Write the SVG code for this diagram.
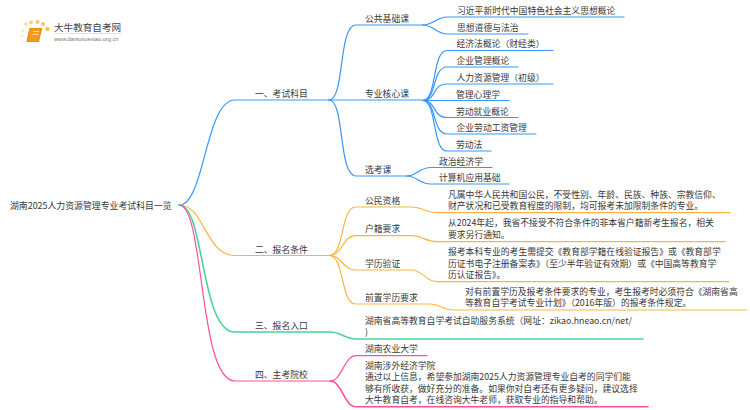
<svg xmlns="http://www.w3.org/2000/svg" width="750" height="410" viewBox="0 0 750 410">
<style>
text{font-family:"Noto Sans CJK SC","Liberation Sans",sans-serif;font-size:8.8px;fill:#383838}
path{fill:none;stroke-width:1.200;stroke-linecap:round}
.b path{stroke:#3597fb}
.o path{stroke:#fbb53e}
.g path{stroke:#48d49b}
.p path{stroke:#ff4f9e}
.t{stroke-width:1.600}
</style>
<rect width="750" height="410" fill="#fff"/>
<g id="connectors">
<g class="b">
<path d="M179 205C205 205 205 100 235 100H329"/>
<path d="M329 100C345 100 338 25 356 25H423"/>
<path d="M329 100H423"/>
<path d="M329 100C345 100 338 176 356 176H407"/>
<path d="M423 25C433 25 437 17 447 17H624"/>
<path d="M423 25C433 25 437 34 447 34H528"/>
<path d="M423 100.500C437 100 432 50.500 447 50.500H553"/>
<path d="M423 100.500C437 100 432 67 447 67H518"/>
<path d="M423 100.500C437 100 432 84 447 84H553"/>
<path d="M423 100.500H509"/>
<path d="M423 100.500C437 101 432 117.500 447 117.500H518"/>
<path d="M423 100.500C437 101 432 134 447 134H536"/>
<path d="M423 100.500C437 101 432 151 447 151H491"/>
<path d="M407 176C417 176 419 167.500 431 167.500H492"/>
<path d="M407 176C417 176 419 184 431 184H509"/>
</g>
<g class="o">
<path d="M179 205C205 205 205 255.500 235 255.500H329"/>
<path d="M329 255.500C345 255.500 340 207 356 207H412C422 207 426 212.700 437 212.700H730"/>
<path d="M329 255.500C343 255.500 342 235.700 356 235.700H412C422 235.700 426 241.700 437 241.700H725"/>
<path d="M329 255.500C343 255.500 342 270 356 270H412C422 270 426 281.700 437 281.700H729"/>
<path d="M329 255.500C345 255.500 340 304 356 304H430C440 304 443 310 453 310H747"/>
</g>
<g class="g">
<path class="t" d="M179 205C205 205 200 332 235 332H330C342 332 344 339 356 339H643"/>
</g>
<g class="p">
<path d="M179 205C205 205 198 381 235 381H330C342 381 344 355.700 356 355.700H427"/>
<path class="t" d="M330 381C342 381 344 406.700 356 406.700H648"/>
</g>
</g>
<g id="logo">
<circle cx="26" cy="24" r="1.800" fill="#fcd98c"/><circle cx="31" cy="22.500" r="2" fill="#fbcf77"/><circle cx="37.500" cy="22" r="2" fill="#fbc75e"/><circle cx="43" cy="24" r="2" fill="#fbc75e"/><circle cx="47.500" cy="29" r="2.200" fill="#fcc450"/><circle cx="22.500" cy="31" r="1.500" fill="#fde2ad"/><circle cx="22" cy="36" r="1.300" fill="#fde9c4"/><circle cx="23.500" cy="42" r="1" fill="#fdeccb"/>
<path d="M30 28.500H41.500L38.500 41.500H27Z" style="fill:#f59a1c;stroke:#f08a10"/>
<path d="M33.500 31.500H38.500M33 34.500H38" style="stroke:#fde2ad"/>
<text x="54" y="31" style="font-size:9.600px;fill:#444">大牛教育自考网</text>
<path d="M54 33.500H121" style="stroke:#ccc;stroke-width:.6"/>
<text x="54" y="41" style="font-size:5.700px;fill:#777;font-family:'Liberation Sans',sans-serif">www.daniuxuexiao.org.cn</text>
</g>
<g id="root"><text x="10" y="208.500" style="font-size:8.900px">湖南2025人力资源管理专业考试科目一览</text></g>
<g id="n1"><text x="255" y="97">一、考试科目</text></g>
<g id="n2"><text x="255" y="252.500">二、报名条件</text></g>
<g id="n3"><text x="255" y="329">三、报名入口</text></g>
<g id="n4"><text x="255" y="378">四、主考院校</text></g>
<g id="n1-1"><text x="365" y="22">公共基础课</text></g>
<g id="n1-2"><text x="365" y="97">专业核心课</text></g>
<g id="n1-3"><text x="365" y="173">选考课</text></g>
<g id="n1-1-1"><text x="457" y="13.500">习近平新时代中国特色社会主义思想概论</text></g>
<g id="n1-1-2"><text x="457" y="30.500">思想道德与法治</text></g>
<g id="n1-2-1"><text x="456.500" y="47">经济法概论（财经类）</text></g>
<g id="n1-2-2"><text x="456.500" y="64">企业管理概论</text></g>
<g id="n1-2-3"><text x="456.500" y="81">人力资源管理（初级）</text></g>
<g id="n1-2-4"><text x="456" y="97.500">管理心理学</text></g>
<g id="n1-2-5"><text x="456" y="114.500">劳动就业概论</text></g>
<g id="n1-2-6"><text x="456.500" y="131">企业劳动工资管理</text></g>
<g id="n1-2-7"><text x="456" y="148">劳动法</text></g>
<g id="n1-3-1"><text x="439" y="164.500">政治经济学</text></g>
<g id="n1-3-2"><text x="439" y="181">计算机应用基础</text></g>
<g id="n2-1"><text x="365" y="203.500">公民资格</text></g>
<g id="n2-2"><text x="365" y="232">户籍要求</text></g>
<g id="n2-3"><text x="365" y="267">学历验证</text></g>
<g id="n2-4"><text x="365" y="301">前置学历要求</text></g>
<g id="n2-1-1"><text x="448" y="197.500">凡属中华人民共和国公民，不受性别、年龄、民族、种族、宗教信仰、</text><text x="448" y="209">财产状况和已受教育程度的限制，均可报考未加限制条件的专业。</text></g>
<g id="n2-2-1"><text x="448" y="226">从2024年起，我省不接受不符合条件的非本省户籍新考生报名，相关</text><text x="448" y="237.500">要求另行通知。</text></g>
<g id="n2-3-1"><text x="448" y="254.500">报考本科专业的考生需提交《教育部学籍在线验证报告》或《教育部学</text><text x="448" y="266.500">历证书电子注册备案表》（至少半年验证有效期）或《中国高等教育学</text><text x="448" y="278">历认证报告》。</text></g>
<g id="n2-4-1"><text x="465" y="294.500">对有前置学历及报考条件要求的专业，考生报考时必须符合《湖南省高</text><text x="465" y="306">等教育自学考试专业计划》（2016年版）的报考条件规定。</text></g>
<g id="n3-1"><text x="365" y="323.500">湖南省高等教育自学考试自助服务系统（网址：zikao.hneao.cn/net/</text><text x="365" y="335">)</text></g>
<g id="n4-1"><text x="365" y="352">湖南农业大学</text></g>
<g id="n4-2"><text x="365" y="368.500">湖南涉外经济学院</text><text x="365" y="380">通过以上信息，希望参加湖南2025人力资源管理专业自考的同学们能</text><text x="365" y="391.500">够有所收获，做好充分的准备。如果你对自考还有更多疑问，建议选择</text><text x="365" y="403">大牛教育自考，在线咨询大牛老师，获取专业的指导和帮助。</text></g>
</svg>
